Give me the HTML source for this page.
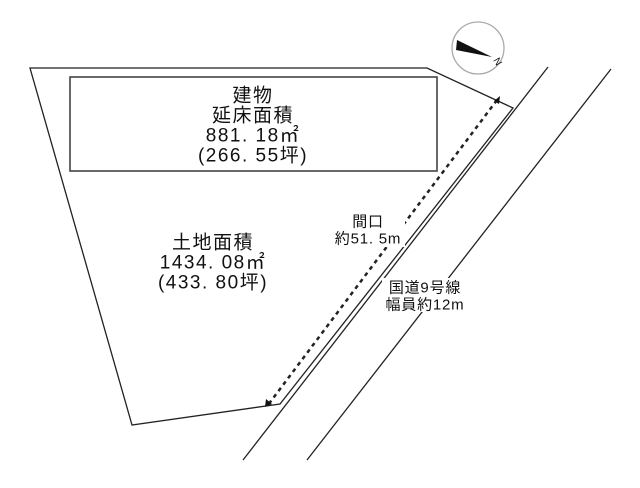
<!DOCTYPE html>
<html><head><meta charset="utf-8"><style>
body{margin:0;background:#fff}
svg text{font-family:"Liberation Sans","Noto Sans CJK JP",sans-serif;fill:#111;text-anchor:middle;dominant-baseline:central}
</style></head><body>
<svg width="640" height="483" viewBox="0 0 640 483" xmlns="http://www.w3.org/2000/svg">
<g stroke="#222" stroke-width="1.3" fill="none">
<polygon points="30,68 427,68 513,108 280,404 132,425"/>
<rect x="70" y="77" width="367" height="94" stroke="#444" stroke-width="1.6"/>
<line x1="548" y1="67" x2="243" y2="460"/>
<line x1="611" y1="69" x2="307" y2="460"/>
<line x1="497" y1="100" x2="268" y2="405" stroke-width="2.5" stroke-dasharray="4,4"/>
<circle cx="478" cy="48" r="26" stroke="#aaa"/>
</g>
<polygon points="494,101 500,96 499,104" fill="#111"/>
<polygon points="265,407 266,399 272,404" fill="#111"/>
<polygon points="457,40 492,57 456,50" fill="#111"/>
<text x="497" y="62" font-size="10" transform="rotate(60 497 62)">N</text>
<g font-size="19" letter-spacing="1.5">
<text x="253" y="96">建物</text>
<text x="253" y="116">延床面積</text>
<text x="253" y="136">881. 18㎡</text>
<text x="253" y="156">(266. 55坪)</text>
<text x="213" y="243">土地面積</text>
<text x="213" y="263">1434. 08㎡</text>
<text x="213" y="283">(433. 80坪)</text>
</g>
<rect x="330" y="212" width="75" height="35" fill="#fff"/>
<rect x="382" y="278" width="86" height="34" fill="#fff"/>
<g font-size="15" letter-spacing="0.8">
<text x="368" y="222">間口</text>
<text x="368" y="239">約51. 5m</text>
<text x="425" y="288">国道9号線</text>
<text x="425" y="305">幅員約12m</text>
</g>
</svg>
</body></html>
